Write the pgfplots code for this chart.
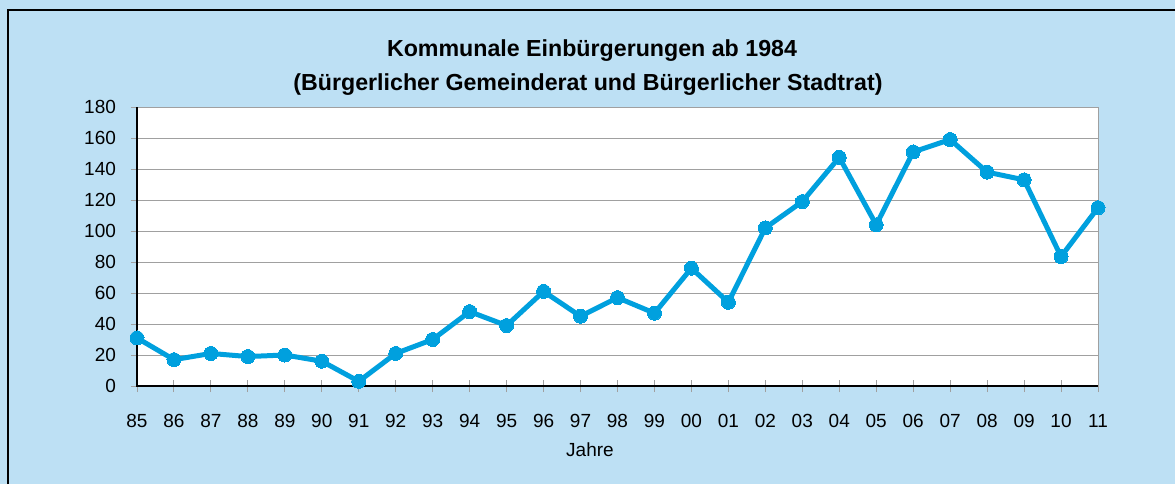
\documentclass[border=0pt]{standalone}
\usepackage{fontspec}
\setmainfont{Liberation Sans}
\usepackage{pgfplots}
\pgfplotsset{compat=1.18}

\definecolor{bgblue}{RGB}{189,224,244}
\definecolor{linie}{RGB}{0,160,222}
\definecolor{gitter}{RGB}{160,160,160}

\begin{document}
\begin{tikzpicture}
% 1 px of the reference = 0.5pt
\path[use as bounding box] (0,0) rectangle (587.5pt,242pt);
\fill[bgblue] (0,0) rectangle (587.5pt,242pt);
\draw[black, line width=1pt] (4pt,0) -- (4pt,237pt) -- (587.5pt,237pt);

\node[anchor=base, font=\fontsize{11.6}{13}\selectfont\bfseries] at (296pt,213.6pt)
  {Kommunale Einbürgerungen ab 1984};
\node[anchor=base, font=\fontsize{11.6}{13}\selectfont\bfseries] at (294pt,197pt)
  {(Bürgerlicher Gemeinderat und Bürgerlicher Stadtrat)};
\node[anchor=base, font=\fontsize{9.5}{11}\selectfont] at (295pt,13.6pt) {Jahre};

\begin{axis}[
  at={(68.5pt,49pt)}, anchor=south west,
  scale only axis,
  width=480.5pt, height=139.5pt,
  xmin=0, xmax=26, ymin=0, ymax=180,
  xtick={0,...,26},
  xticklabels={85,86,87,88,89,90,91,92,93,94,95,96,97,98,99,00,01,02,03,04,05,06,07,08,09,10,11},
  ytick={0,20,...,180},
  xtick pos=bottom, ytick pos=left,
  ymajorgrids=true,
  grid style={gitter, line width=0.5pt},
  axis background/.style={fill=white},
  axis line style={gitter, line width=0.5pt},
  xtick align=center,
  ytick align=outside,
  major tick length=6pt,
  xtick style={gitter, line width=0.5pt},
  ytick style={gitter, line width=0.5pt, /pgfplots/major tick length=3pt},
  tick label style={font=\fontsize{9.5}{11}\selectfont},
  xticklabel style={yshift=-7.5pt},
  yticklabel style={xshift=-1pt},
  /pgf/number format/assume math mode=true,
  clip=false,
]
\draw[black, line width=0.6pt] (axis cs:0,180) -- (axis cs:0,0) -- (axis cs:26,0);
\addplot[color=linie, line width=2.5pt, mark=*, mark size=3.5pt,
  mark options={fill=linie, draw=linie, line width=0pt}]
  coordinates {
  (0,31) (1,17) (2,21) (3,19) (4,20) (5,16) (6,3) (7,21) (8,30) (9,48)
  (10,39) (11,61) (12,45) (13,57) (14,47) (15,76) (16,54) (17,102) (18,119)
  (19,147.5) (20,104) (21,151) (22,159) (23,138) (24,133) (25,83.5) (26,115)
  };
\end{axis}
\end{tikzpicture}
\end{document}
